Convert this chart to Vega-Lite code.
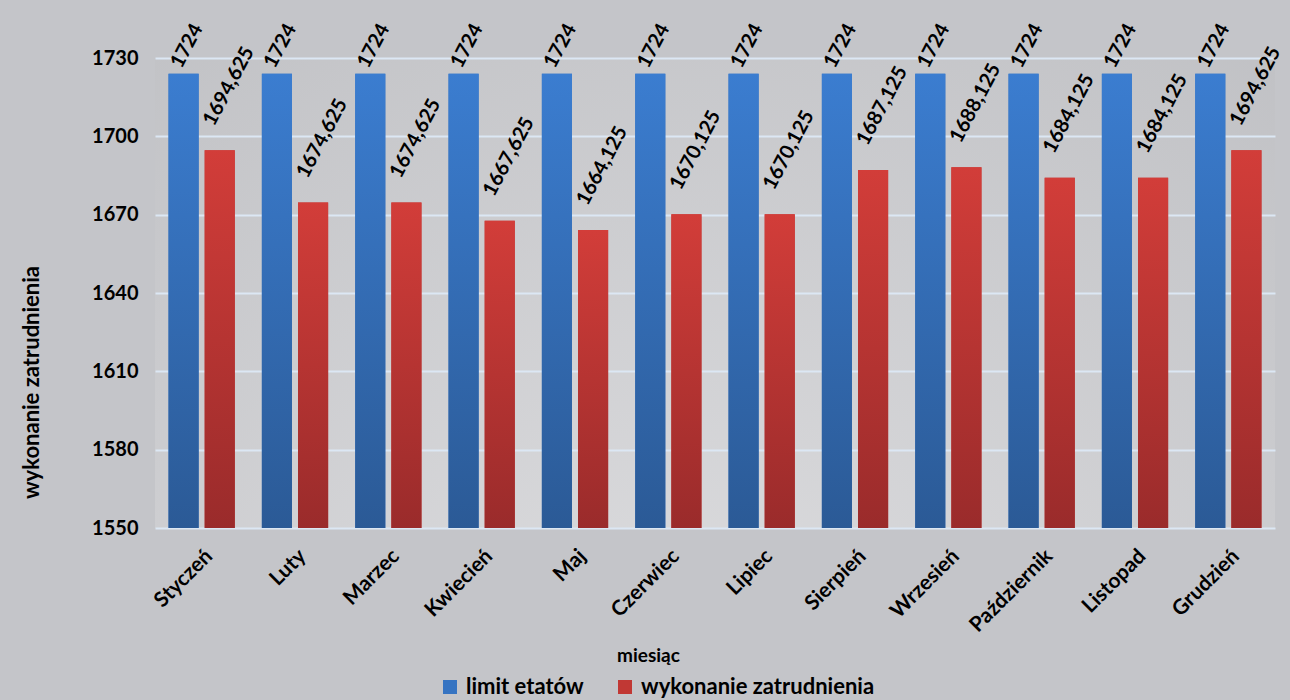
{
  "$schema": "https://vega.github.io/schema/vega-lite/v6.json",
  "width": 1120,
  "height": 470,
  "autosize": {"type": "none"},
  "padding": {"left": 155, "top": 58, "right": 15, "bottom": 172},
  "background": "#C4C5C9",
  "view": {
    "stroke": null,
    "fill": {
      "gradient": "radial",
      "x1": 0.47, "y1": 1.0, "r1": 0,
      "x2": 0.47, "y2": 1.0, "r2": 1.15,
      "stops": [
        {"offset": 0, "color": "#E2E2E4"},
        {"offset": 1, "color": "#B7B8BC"}
      ]
    }
  },
  "config": {
    "font": "Lato",
    "locale": {
      "number": {"decimal": ",", "thousands": " ", "grouping": [3], "currency": ["", " zł"]}
    }
  },
  "data": {
    "values": [
      {"miesiac": "Styczeń", "seria": "limit etatów", "wartosc": 1724},
      {"miesiac": "Styczeń", "seria": "wykonanie zatrudnienia", "wartosc": 1694.625},
      {"miesiac": "Luty", "seria": "limit etatów", "wartosc": 1724},
      {"miesiac": "Luty", "seria": "wykonanie zatrudnienia", "wartosc": 1674.625},
      {"miesiac": "Marzec", "seria": "limit etatów", "wartosc": 1724},
      {"miesiac": "Marzec", "seria": "wykonanie zatrudnienia", "wartosc": 1674.625},
      {"miesiac": "Kwiecień", "seria": "limit etatów", "wartosc": 1724},
      {"miesiac": "Kwiecień", "seria": "wykonanie zatrudnienia", "wartosc": 1667.625},
      {"miesiac": "Maj", "seria": "limit etatów", "wartosc": 1724},
      {"miesiac": "Maj", "seria": "wykonanie zatrudnienia", "wartosc": 1664.125},
      {"miesiac": "Czerwiec", "seria": "limit etatów", "wartosc": 1724},
      {"miesiac": "Czerwiec", "seria": "wykonanie zatrudnienia", "wartosc": 1670.125},
      {"miesiac": "Lipiec", "seria": "limit etatów", "wartosc": 1724},
      {"miesiac": "Lipiec", "seria": "wykonanie zatrudnienia", "wartosc": 1670.125},
      {"miesiac": "Sierpień", "seria": "limit etatów", "wartosc": 1724},
      {"miesiac": "Sierpień", "seria": "wykonanie zatrudnienia", "wartosc": 1687.125},
      {"miesiac": "Wrzesień", "seria": "limit etatów", "wartosc": 1724},
      {"miesiac": "Wrzesień", "seria": "wykonanie zatrudnienia", "wartosc": 1688.125},
      {"miesiac": "Październik", "seria": "limit etatów", "wartosc": 1724},
      {"miesiac": "Październik", "seria": "wykonanie zatrudnienia", "wartosc": 1684.125},
      {"miesiac": "Listopad", "seria": "limit etatów", "wartosc": 1724},
      {"miesiac": "Listopad", "seria": "wykonanie zatrudnienia", "wartosc": 1684.125},
      {"miesiac": "Grudzień", "seria": "limit etatów", "wartosc": 1724},
      {"miesiac": "Grudzień", "seria": "wykonanie zatrudnienia", "wartosc": 1694.625}
    ]
  },
  "encoding": {
    "x": {
      "field": "miesiac",
      "type": "nominal",
      "sort": null,
      "scale": {"paddingInner": 0.29, "paddingOuter": 0.145},
      "axis": {
        "title": "miesiąc",
        "labelAngle": -45,
        "labelFontSize": 21,
        "labelFontWeight": "bold",
        "labelColor": "black",
        "labelPadding": 17,
        "domain": false,
        "ticks": false,
        "grid": false,
        "titleFontSize": 19,
        "titleFontWeight": "bold",
        "titleColor": "black",
        "titleX": 493,
        "titleY": 127,
        "titleBaseline": "middle"
      }
    },
    "xOffset": {
      "field": "seria",
      "type": "nominal",
      "sort": ["limit etatów", "wykonanie zatrudnienia"],
      "scale": {"paddingInner": 0.167, "paddingOuter": 0}
    },
    "y": {
      "field": "wartosc",
      "type": "quantitative",
      "scale": {"domain": [1550, 1730], "zero": false, "nice": false},
      "axis": {
        "values": [1550, 1580, 1610, 1640, 1670, 1700, 1730],
        "format": "d",
        "title": "wykonanie zatrudnienia",
        "labelFontSize": 20,
        "labelFontWeight": "bold",
        "labelColor": "black",
        "labelPadding": 17,
        "domain": false,
        "ticks": false,
        "gridColor": "#DCE7F4",
        "gridWidth": 2,
        "titleFontSize": 22,
        "titleFontWeight": "bold",
        "titleColor": "black",
        "titleX": -124,
        "titleY": 324,
        "titleBaseline": "middle"
      }
    }
  },
  "layer": [
    {
      "mark": {"type": "bar", "strokeWidth": 0},
      "encoding": {
        "y2": {"datum": 1550},
        "color": {
          "field": "seria",
          "type": "nominal",
          "scale": {
            "domain": ["limit etatów", "wykonanie zatrudnienia"],
            "range": ["#3674C2", "#C13834"]
          },
          "legend": {
            "orient": "none",
            "legendX": 284,
            "legendY": 618,
            "direction": "horizontal",
            "title": null,
            "labelFontSize": 22,
            "labelFontWeight": "bold",
            "labelColor": "black",
            "labelLimit": 400,
            "symbolType": "square",
            "symbolSize": 196,
            "symbolStrokeWidth": 0,
            "symbolOpacity": 1,
            "labelOffset": 5,
            "columnPadding": 30
          }
        }
      }
    },
    {
      "transform": [{"filter": "datum.seria === 'limit etatów'"}],
      "mark": {
        "type": "bar",
        "strokeWidth": 0,
        "fill": {"gradient": "linear", "x1": 0, "y1": 0, "x2": 0, "y2": 1,
          "stops": [{"offset": 0, "color": "#3B7DD0"}, {"offset": 1, "color": "#2B5A96"}]}
      },
      "encoding": {"y2": {"datum": 1550}}
    },
    {
      "transform": [{"filter": "datum.seria === 'wykonanie zatrudnienia'"}],
      "mark": {
        "type": "bar",
        "strokeWidth": 0,
        "fill": {"gradient": "linear", "x1": 0, "y1": 0, "x2": 0, "y2": 1,
          "stops": [{"offset": 0, "color": "#D23D39"}, {"offset": 1, "color": "#9A2B2B"}]}
      },
      "encoding": {"y2": {"datum": 1550}}
    },
    {
      "transform": [{"filter": "datum.seria === 'limit etatów'"}],
      "mark": {"type": "text", "angle": -62, "align": "left", "baseline": "middle", "dx": 3, "dy": -10, "fontSize": 20, "fontWeight": "bold", "color": "black"},
      "encoding": {"text": {"field": "wartosc", "type": "quantitative", "format": "~f"}}
    },
    {
      "transform": [{"filter": "datum.seria === 'wykonanie zatrudnienia'"}],
      "mark": {"type": "text", "angle": -62, "align": "left", "baseline": "middle", "dx": 18, "dy": -22, "fontSize": 20, "fontWeight": "bold", "color": "black"},
      "encoding": {"text": {"field": "wartosc", "type": "quantitative", "format": "~f"}}
    }
  ]
}
